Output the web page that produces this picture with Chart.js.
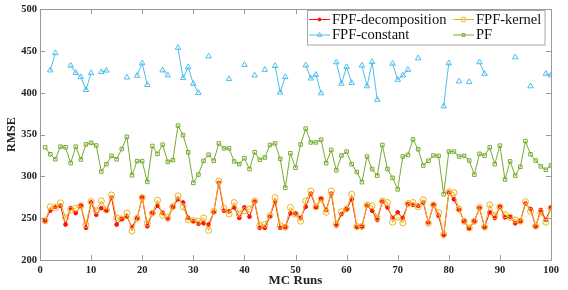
<!DOCTYPE html>
<html>
<head>
<meta charset="utf-8">
<script src="https://cdn.jsdelivr.net/npm/chart.js@4.4.0/dist/chart.umd.min.js"></script>
<style>
html,body{margin:0;padding:0;background:#fff;}
#wrap{width:568px;height:290px;position:relative;}
</style>
</head>
<body>
<div id="wrap"><canvas id="c"></canvas></div>
<script>
const runs = Array.from({length:100},(_,i)=>i+1);
const xTicks = [0,10,20,30,40,50,60,70,80,90,100];
const yTicks = [200,250,300,350,400,450,500];
const seriesNames = ['FPF-decomposition','FPF-kernel','FPF-constant','PF'];

const fpfDecomposition = [
247.2,259,263.7,264.9,242.5,262.1,256.2,264.9,238.5,268.8,
254.2,262.1,259,274.7,242.5,249.2,252.2,239.3,249.9,274.7,
240.4,256.2,264.9,256.5,249,263.7,272.7,268.8,250.4,246.4,
243.3,244,242.5,257,292.3,259,258.2,262.9,250.4,262.9,
251.9,269.9,238.5,238.5,251.9,269.9,238.5,239.3,255.8,255.8,
250.4,263.7,279.4,262.9,273.5,259.8,279.4,241.3,255,261,
272.7,239.3,240.1,264.9,259,248,269.9,262.9,250.4,257,
250.4,266.9,266,264.9,268.8,245,266,253,229.5,280.6,
272.7,260.1,246.4,237.4,246.4,262.1,239.3,257,250.4,263.7,
251.1,251.9,244,246.4,267.6,261,240.4,259.8,248,262.9];

const fpfKernel = [
247,263.7,262.1,268.4,250.4,259.8,262.1,264.9,242.5,269.9,
259,270.7,259.8,277.8,250.4,249.2,256.2,234.6,249.9,274.7,
244,256.2,271.6,253.5,251,263.7,276.7,263.7,248,247.2,
246.4,250.4,235.4,258.2,294.3,262.1,255,268.8,255,259,
261,270.7,241.3,242.5,253,274.7,241.3,239.3,262.9,255,
246.4,270.7,282.5,263.7,272.7,257,282.5,243.3,257.8,261,
278.6,240.1,240.1,266,264.9,250.4,270.7,268.8,245.2,251.1,
244.4,267.6,268.8,263.7,272,244,266,257,230.7,281.7,
280.6,261,246.4,238.5,246.4,262.9,239.3,266,253,263.7,
254.2,251.1,248,246.4,269.9,258.2,240.4,257,245.2,262.1];

const fpfConstant = [
null,427,447.6,null,null,432.7,424,419,403.6,423.7,
null,425,426.8,null,null,null,418.5,null,420.5,435.5,
409.5,null,null,427,421,null,454,417.8,430.8,411,
400,null,443.7,null,null,null,416.6,null,null,433.5,
null,420.9,null,427.6,null,432.3,400.5,419,null,null,
null,433,417.3,421.7,399.6,null,null,436.7,411,431,
412,null,432.7,408,437,391.8,null,null,435,415.8,
421,427.6,null,441.4,null,null,null,null,384,435.5,
null,413.8,null,413,null,436.7,422.9,null,null,null,
null,null,442.6,null,null,408,null,null,422.9,421];

const pf = [
334.8,326.5,320.6,335.6,334.8,316,335.6,320.3,338.3,340.3,
337,305.8,314.7,324.6,320.6,332.9,347.4,301.4,318.3,318.3,
293.5,336.4,327,338,317.5,319.5,360.8,349.4,328.9,292.3,
302.2,318.7,326,318.7,339.5,333.6,333.6,318,314.7,321.8,
308.8,328.9,320,322.6,337.6,339.5,321,286.4,327.7,310.4,
338.3,357.2,340.7,340.7,344,316,331.7,307.3,325,329.7,
314.7,305.3,293.2,323.8,308.8,301,337.6,308.8,298.3,284.5,
323.8,325.8,344.3,332.5,313,318.8,325,324.6,278.6,329.7,
329.7,323.8,324.6,319,302.2,327,325,334.8,314.7,336.8,
296.3,318,301,311.6,342.3,326.5,319,312,308,313.2];

const toXY = arr => runs.map((r,i)=>({x:r,y:arr[i]}));

const styles = [
  {color:'#ff1010', style:'circle', r:1.9, fill:true, order:2},
  {color:'#EDB120', style:'circle', r:3, fill:false, order:1},
  {color:'#4DBEEE', style:'triangle', r:3.2, fill:false, order:3},
  {color:'#77AC30', style:'rect', r:2.5, fill:false, order:4}
];
const allData = [fpfDecomposition, fpfKernel, fpfConstant, pf];

const datasets = allData.map((d,i)=>({
  label: seriesNames[i],
  data: toXY(d),
  borderColor: styles[i].color,
  backgroundColor: styles[i].fill ? styles[i].color : 'rgba(255,255,255,0)',
  pointBorderColor: styles[i].color,
  pointBackgroundColor: styles[i].fill ? styles[i].color : 'rgba(255,255,255,0)',
  pointStyle: styles[i].style,
  pointRadius: styles[i].r,
  pointBorderWidth: 1,
  borderWidth: 1,
  tension: 0,
  spanGaps: false,
  order: styles[i].order
}));

const FRAME = '#9a9a9a';

const framePlugin = {
  id:'frame',
  afterDraw(chart){
    const ctx = chart.ctx, a = chart.chartArea;
    const xs = chart.scales.x, ys = chart.scales.y;
    ctx.save();
    ctx.strokeStyle = FRAME;
    ctx.lineWidth = 1;
    ctx.beginPath();
    ctx.rect(Math.round(a.left)+0.5, Math.round(a.top)+0.5, Math.round(a.right-a.left), Math.round(a.bottom-a.top));
    ctx.stroke();
    ctx.beginPath();
    xTicks.forEach(v=>{
      const p = Math.round(xs.getPixelForValue(v))+0.5;
      ctx.moveTo(p, a.bottom); ctx.lineTo(p, a.bottom-5);
      ctx.moveTo(p, a.top); ctx.lineTo(p, a.top+5);
    });
    yTicks.forEach(v=>{
      const p = Math.round(ys.getPixelForValue(v))+0.5;
      ctx.moveTo(a.left, p); ctx.lineTo(a.left+5, p);
      ctx.moveTo(a.right, p); ctx.lineTo(a.right-5, p);
    });
    ctx.stroke();

    // legend box
    const bx=307.5, by=10.5, bw=237.5, bh=34.5;
    ctx.fillStyle='#fff';
    ctx.fillRect(bx,by,bw,bh);
    ctx.strokeStyle='#a8a8a8';
    ctx.strokeRect(bx,by,bw,bh);
    const items = [
      {i:0, x0:309, y:19},
      {i:1, x0:453, y:19},
      {i:2, x0:309, y:34.5},
      {i:3, x0:453, y:34.5}
    ];
    ctx.font = '14.5px "Liberation Serif", serif';
    ctx.textBaseline='middle';
    ctx.textAlign='left';
    items.forEach(it=>{
      const s = styles[it.i];
      ctx.strokeStyle = s.color;
      ctx.lineWidth = 1;
      ctx.beginPath();
      ctx.moveTo(it.x0, it.y+0.5); ctx.lineTo(it.x0+21, it.y+0.5);
      ctx.stroke();
      ctx.strokeStyle = s.color;
      ctx.fillStyle = s.fill ? s.color : 'rgba(255,255,255,0)';
      Chart.helpers.drawPoint(ctx, {pointStyle:s.style, radius:s.r*0.8, borderWidth:1}, it.x0+10.5, it.y+0.5);
      ctx.fillStyle = '#111';
      ctx.fillText(seriesNames[it.i], it.x0+23, it.y+1);
    });
    ctx.restore();
  }
};

new Chart(document.getElementById('c'), {
  type:'line',
  data:{datasets},
  options:{
    responsive:true,
    maintainAspectRatio:false,
    animation:false,
    devicePixelRatio:1,
    layout:{padding:{top:5,right:17,left:0,bottom:0}},
    plugins:{legend:{display:false}, tooltip:{enabled:false}},
    scales:{
      x:{
        type:'linear', min:0, max:100,
        afterBuildTicks(s){ s.ticks = xTicks.map(v=>({value:v})); },
        afterFit(s){ s.height = 30; },
        grid:{display:false, drawTicks:false},
        border:{display:false},
        ticks:{padding:4, color:'#222', font:{family:'"Liberation Serif", serif', size:10.5, weight:'bold'}, maxRotation:0, autoSkip:false},
        title:{display:true, text:'MC Runs', color:'#222', padding:{top:0,bottom:2}, font:{family:'"Liberation Serif", serif', size:13, weight:'bold'}}
      },
      y:{
        min:200, max:500,
        afterBuildTicks(s){ s.ticks = yTicks.map(v=>({value:v})); },
        afterFit(s){ s.width = 40; },
        grid:{display:false, drawTicks:false},
        border:{display:false},
        ticks:{padding:3, color:'#222', font:{family:'"Liberation Serif", serif', size:10.5, weight:'bold'}, autoSkip:false},
        title:{display:true, text:'RMSE', color:'#222', padding:{top:5,bottom:0}, font:{family:'"Liberation Serif", serif', size:12, weight:'bold'}}
      }
    }
  },
  plugins:[framePlugin]
});
</script>
</body>
</html>
